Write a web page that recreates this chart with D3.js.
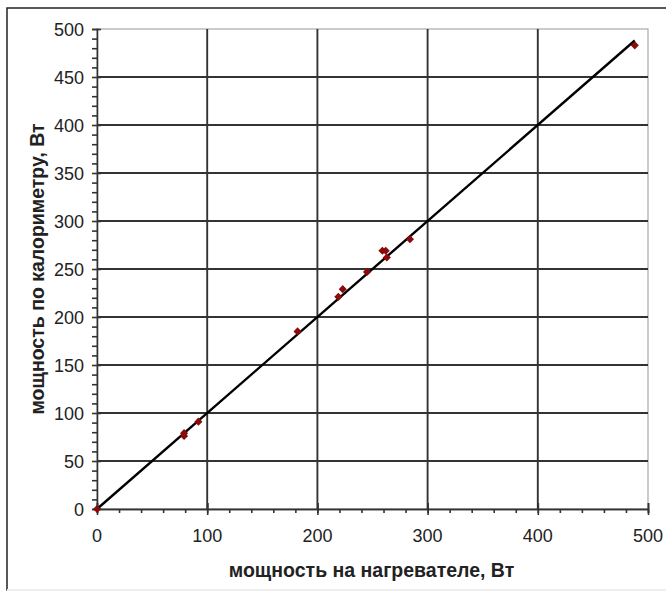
<!DOCTYPE html>
<html>
<head>
<meta charset="utf-8">
<script src="https://cdn.jsdelivr.net/npm/d3@7"></script>
<style>
  body { margin: 0; background: #fff; }
  svg text { font-family: "Liberation Sans", Arial, sans-serif; fill: #222; }
</style>
</head>
<body>
<svg id="chart" width="666" height="594"></svg>
<script>
// data
const heaterPower = [0, 79, 79, 92, 182, 219, 223, 245, 259, 262, 263, 284, 488];
const calorPower = [0, 76, 79, 91, 185, 221, 229, 247, 269, 269, 262, 281, 483];
const majorTicks = [0, 100, 200, 300, 400, 500];
const yMajorTicks = [0, 50, 100, 150, 200, 250, 300, 350, 400, 450, 500];
const fitLine = [0, 488];

const svg = d3.select("#chart");

// outer frame
svg.append("rect")
	.attr("x", 7).attr("y", 8)
	.attr("width", 670).attr("height", 582)
	.attr("fill", "none").attr("stroke", "#222").attr("stroke-width", 1.5);
svg.append("line")
	.attr("x1", 7).attr("x2", 666).attr("y1", 590).attr("y2", 590)
	.attr("stroke", "#eee").attr("stroke-width", 2);

const margin = { left: 97, right: 648, top: 29, bottom: 509 };
const x = d3.scaleLinear().domain([0, 500]).range([margin.left, margin.right]);
const y = d3.scaleLinear().domain([0, 500]).range([margin.bottom, margin.top]);

// plot area border
svg.append("rect")
	.attr("x", margin.left).attr("y", margin.top)
	.attr("width", margin.right - margin.left).attr("height", margin.bottom - margin.top)
	.attr("fill", "#fff").attr("stroke", "#aaa").attr("stroke-width", 1.2);

// grid
const grid = svg.append("g").attr("stroke", "#333").attr("stroke-width", 1.9);
grid.selectAll(".gx")
	.data(majorTicks.slice(1, -1))
	.join("line")
	.attr("x1", (d) => x(d)).attr("x2", (d) => x(d))
	.attr("y1", margin.top).attr("y2", margin.bottom);
grid.selectAll(".gy")
	.data(yMajorTicks.slice(1, -1))
	.join("line")
	.attr("x1", margin.left).attr("x2", margin.right)
	.attr("y1", (d) => y(d)).attr("y2", (d) => y(d));

// x axis: major ticks cross, minor below
const xAxis = svg.append("g")
	.attr("transform", `translate(0,${margin.bottom})`);
xAxis.call(d3.axisBottom(x).ticks(25).tickSize(4).tickFormat(""));
xAxis.append("g").call(
	d3.axisBottom(x).tickValues(majorTicks).tickSizeInner(6).tickSizeOuter(0).tickFormat(""));
xAxis.selectAll(".tick line").attr("y1", (d) => (d % 100 === 0 ? -6 : 0));
xAxis.selectAll("path, line").attr("stroke", "#333").attr("stroke-width", 1.6);
svg.append("g")
	.selectAll("text")
	.data(majorTicks)
	.join("text")
	.attr("x", (d) => x(d))
	.attr("y", 542)
	.attr("text-anchor", "middle")
	.style("font-size", "18px")
	.text((d) => d);

// y axis: major ticks cross, minor left
const yAxis = svg.append("g")
	.attr("transform", `translate(${margin.left},0)`);
yAxis.call(d3.axisLeft(y).ticks(50).tickSize(5).tickFormat(""));
yAxis.selectAll(".tick line").attr("x1", (d) => (d % 50 === 0 ? 4 : 0));
yAxis.selectAll("path, line").attr("stroke", "#333").attr("stroke-width", 1.6);
svg.append("g")
	.selectAll("text")
	.data(yMajorTicks)
	.join("text")
	.attr("x", 84)
	.attr("y", (d) => y(d) + 6.5)
	.attr("text-anchor", "end")
	.style("font-size", "18px")
	.text((d) => d);

// fitted line y = x
const line = d3.line().x((d) => x(d)).y((d) => y(d));
svg.append("path")
	.datum(fitLine)
	.attr("d", line)
	.attr("fill", "none")
	.attr("stroke", "#000")
	.attr("stroke-width", 2.4);

// points
svg.append("g")
	.selectAll("path")
	.data(heaterPower.map((d, i) => [d, calorPower[i]]))
	.join("path")
	.attr("transform", (d) => `translate(${x(d[0])},${y(d[1])})`)
	.attr("d", d3.symbol(d3.symbolDiamond2, 42))
	.attr("fill", "#8b0a0a");

// axis titles
svg.append("text")
	.attr("x", (margin.left + margin.right) / 2 - 1)
	.attr("y", 577)
	.attr("text-anchor", "middle")
	.style("font-size", "19.5px")
	.style("font-weight", "bold")
	.text("мощность на нагревателе, Вт");
svg.append("text")
	.attr("transform", `translate(44,${(margin.top + margin.bottom) / 2}) rotate(-90)`)
	.attr("text-anchor", "middle")
	.style("font-size", "19.5px")
	.style("font-weight", "bold")
	.text("мощность по калориметру, Вт");
</script>
</body>
</html>
